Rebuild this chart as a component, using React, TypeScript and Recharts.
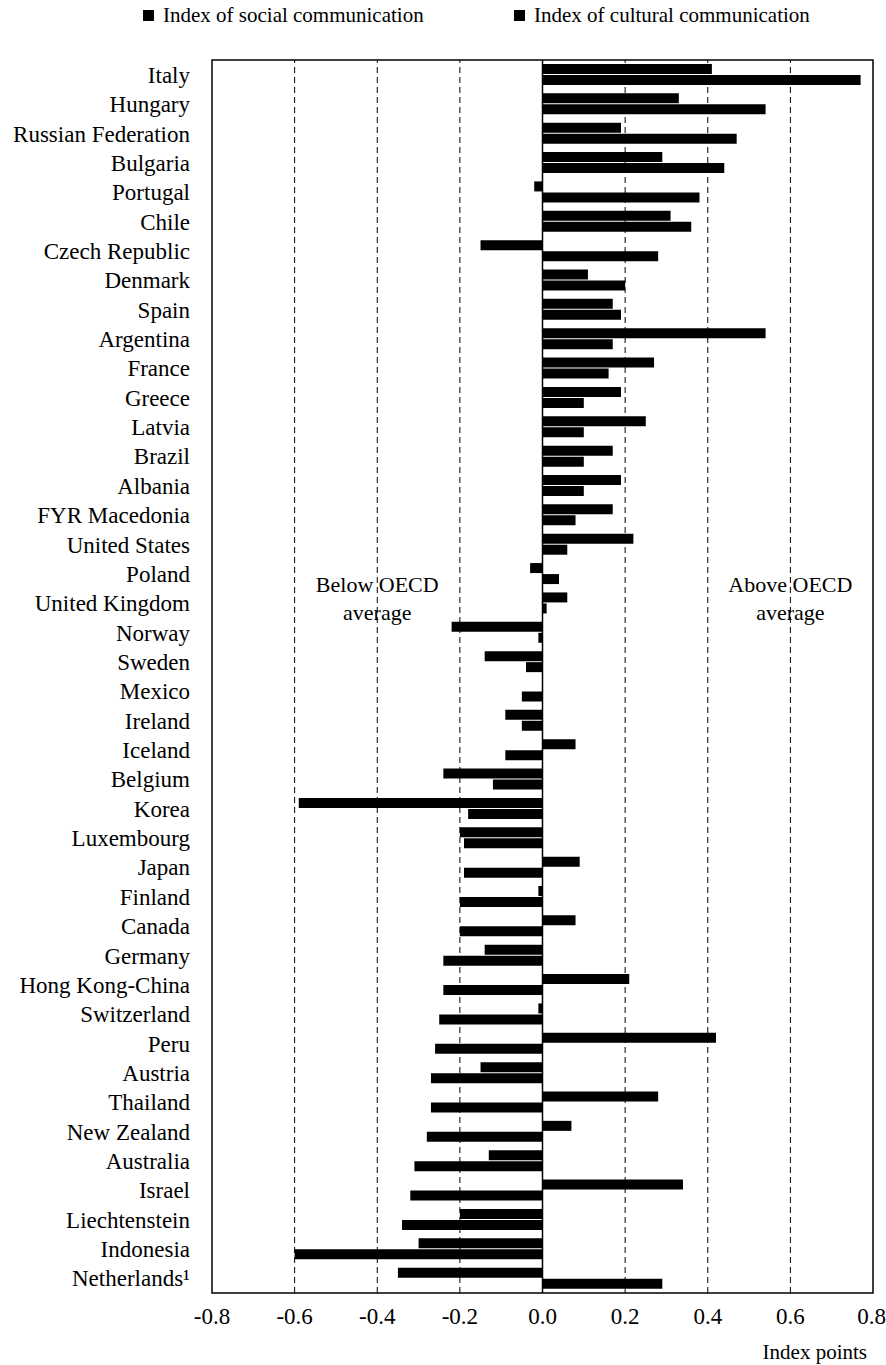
import React from 'react';
import { BarChart, Bar, XAxis, YAxis, ReferenceLine, ReferenceArea } from 'recharts';

const countries = [
  'Italy', 'Hungary', 'Russian Federation', 'Bulgaria', 'Portugal', 'Chile', 'Czech Republic',
  'Denmark', 'Spain', 'Argentina', 'France', 'Greece', 'Latvia', 'Brazil', 'Albania',
  'FYR Macedonia', 'United States', 'Poland', 'United Kingdom', 'Norway', 'Sweden', 'Mexico',
  'Ireland', 'Iceland', 'Belgium', 'Korea', 'Luxembourg', 'Japan', 'Finland', 'Canada',
  'Germany', 'Hong Kong-China', 'Switzerland', 'Peru', 'Austria', 'Thailand', 'New Zealand',
  'Australia', 'Israel', 'Liechtenstein', 'Indonesia', 'Netherlands\u00b9',
];

const socialIndex = [
  0.41, 0.33, 0.19, 0.29, -0.02, 0.31, -0.15, 0.11, 0.17, 0.54, 0.27, 0.19, 0.25, 0.17,
  0.19, 0.17, 0.22, -0.03, 0.06, -0.22, -0.14, null, -0.09, 0.08, -0.24, -0.59, -0.2, 0.09,
  -0.01, 0.08, -0.14, 0.21, -0.01, 0.42, -0.15, 0.28, 0.07, -0.13, 0.34, -0.2, -0.3, -0.35,
];

const culturalIndex = [
  0.77, 0.54, 0.47, 0.44, 0.38, 0.36, 0.28, 0.2, 0.19, 0.17, 0.16, 0.1, 0.1, 0.1, 0.1,
  0.08, 0.06, 0.04, 0.01, -0.01, -0.04, -0.05, -0.05, -0.09, -0.12, -0.18, -0.19, -0.19,
  -0.2, -0.2, -0.24, -0.24, -0.25, -0.26, -0.27, -0.27, -0.28, -0.31, -0.32, -0.34, -0.6, 0.29,
];

const legendItems = ['Index of social communication', 'Index of cultural communication'];
const xTicks = [-0.8, -0.6, -0.4, -0.2, 0, 0.2, 0.4, 0.6, 0.8];
const dashedLines = [-0.6, -0.4, -0.2, 0.2, 0.4, 0.6];

const FONT = '"Liberation Serif", "Times New Roman", serif';

const data = countries.map((country, i) => ({
  country,
  social: socialIndex[i],
  cultural: culturalIndex[i],
}));

function LegendRow() {
  const lefts = [143, 514];
  return (
    <div style={{ position: 'absolute', left: 0, top: 0, width: 886, height: 32, fontFamily: FONT, fontSize: 21, color: '#000' }}>
      {legendItems.map((label, i) => (
        <div key={label} style={{ position: 'absolute', left: lefts[i], top: 3, display: 'flex', alignItems: 'center' }}>
          <span style={{ display: 'inline-block', width: 11, height: 11, background: '#000', marginRight: 9 }} />
          <span>{label}</span>
        </div>
      ))}
    </div>
  );
}

function sideLabel(lines: string[]) {
  return (props: any) => {
    const x = props.viewBox.x;
    return (
      <text x={x} y={584} textAnchor="middle" fontFamily={FONT} fontSize={22} fill="#000">
        <tspan x={x} dy="0.35em">{lines[0]}</tspan>
        <tspan x={x} dy="28">{lines[1]}</tspan>
      </text>
    );
  };
}

export default function App() {
  return (
    <div style={{ position: 'absolute', left: 0, top: 0, width: 886, height: 1365, background: '#fff' }}>
      <BarChart
        width={886}
        height={1365}
        data={data}
        layout="vertical"
        margin={{ top: 60, right: 13, bottom: 0, left: 0 }}
        barSize={10}
        barGap={1}
      >
        <XAxis
          type="number"
          domain={[-0.8, 0.8]}
          ticks={xTicks}
          tickFormatter={(v: number) => v.toFixed(1)}
          axisLine={false}
          tickLine={false}
          tickMargin={9}
          height={72}
          tick={{ fontFamily: FONT, fontSize: 23, fill: '#000' }}
          label={{ value: 'Index points', position: 'insideBottomRight', offset: 6, fontFamily: FONT, fontSize: 21, fill: '#000' }}
        />
        <YAxis
          type="category"
          dataKey="country"
          width={212}
          axisLine={false}
          tickLine={false}
          tickSize={0}
          tickMargin={22}
          interval={0}
          tick={{ fontFamily: FONT, fontSize: 23, fill: '#000' }}
        />
        {dashedLines.map(v => (
          <ReferenceLine key={v} x={v} stroke="#000" strokeWidth={1} strokeDasharray="6 4" />
        ))}
        <ReferenceLine x={-0.4} stroke="none" label={{ content: sideLabel(['Below OECD', 'average']) } as any} />
        <ReferenceLine x={0.6} stroke="none" label={{ content: sideLabel(['Above OECD', 'average']) } as any} />
        <Bar dataKey="social" name="Index of social communication" fill="#000" isAnimationActive={false} />
        <Bar dataKey="cultural" name="Index of cultural communication" fill="#000" isAnimationActive={false} />
        <ReferenceLine x={0} stroke="#000" strokeWidth={1.5} />
        <ReferenceArea x1={-0.8} x2={0.8} fill="none" stroke="#000" strokeWidth={1.5} />
      </BarChart>
      <LegendRow />
    </div>
  );
}
